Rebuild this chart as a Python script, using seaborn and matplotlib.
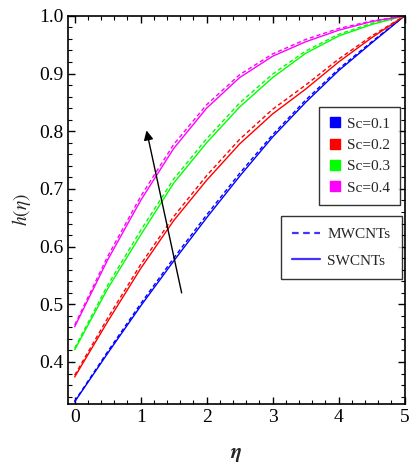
import numpy as np
import pandas as pd
import matplotlib
matplotlib.use("Agg")
import matplotlib.pyplot as plt
from matplotlib.lines import Line2D
import seaborn as sns

eta = [0.0, 0.5, 1.0, 1.5, 2.0, 2.5, 3.0, 3.5, 4.0, 4.5, 5.0]
sc_labels = ["Sc=0.1", "Sc=0.2", "Sc=0.3", "Sc=0.4"]

swcnt_01 = [0.331, 0.415, 0.497, 0.575, 0.650, 0.722, 0.790, 0.850, 0.905, 0.953, 1.0]
mwcnt_01 = [0.332, 0.418, 0.501, 0.580, 0.655, 0.727, 0.794, 0.854, 0.908, 0.955, 1.0]
swcnt_02 = [0.374, 0.470, 0.562, 0.645, 0.715, 0.778, 0.830, 0.873, 0.920, 0.962, 1.0]
mwcnt_02 = [0.377, 0.476, 0.569, 0.652, 0.723, 0.786, 0.838, 0.880, 0.925, 0.965, 1.0]
swcnt_03 = [0.421, 0.527, 0.620, 0.710, 0.780, 0.842, 0.893, 0.935, 0.965, 0.985, 1.0]
mwcnt_03 = [0.424, 0.533, 0.628, 0.717, 0.787, 0.849, 0.899, 0.939, 0.968, 0.987, 1.0]
swcnt_04 = [0.461, 0.577, 0.680, 0.770, 0.840, 0.893, 0.930, 0.955, 0.975, 0.990, 1.0]
mwcnt_04 = [0.464, 0.583, 0.687, 0.777, 0.846, 0.898, 0.934, 0.959, 0.978, 0.991, 1.0]

colors = ["#0000ff", "#ff0000", "#00ff00", "#ff00ff"]

rows = []
for lab, s, m in zip(sc_labels, [swcnt_01, swcnt_02, swcnt_03, swcnt_04],
                     [mwcnt_01, mwcnt_02, mwcnt_03, mwcnt_04]):
    for e, v in zip(eta, s):
        rows.append((e, v, lab, "SWCNTs"))
    for e, v in zip(eta, m):
        rows.append((e, v, lab, "MWCNTs"))
df = pd.DataFrame(rows, columns=["eta", "h", "Sc", "type"])

sns.set_style("ticks")
plt.rcParams["font.family"] = ["Liberation Serif", "DejaVu Serif"]
plt.rcParams["mathtext.fontset"] = "stix"

fig = plt.figure(figsize=(4.10, 4.65), dpi=100)
ax = fig.add_axes([0.166, 0.131, 0.821, 0.835])

sns.lineplot(data=df, x="eta", y="h", hue="Sc", style="type",
             palette=colors, hue_order=sc_labels,
             style_order=["MWCNTs", "SWCNTs"],
             dashes={"MWCNTs": (3, 2), "SWCNTs": ""},
             linewidth=1.0, ax=ax, legend=False, estimator=None, sort=True)

ax.set_xlim(-0.1, 5.0)
ax.set_ylim(0.327, 1.0)
ax.set_xticks([0, 1, 2, 3, 4, 5])
ax.set_yticks([0.4, 0.5, 0.6, 0.7, 0.8, 0.9, 1.0])
ax.set_xticks(np.arange(0, 5.01, 0.2), minor=True)
ax.set_yticks(np.arange(0.34, 1.001, 0.02), minor=True)
ax.tick_params(which="both", direction="in", top=True, right=True,
               labelsize=14, colors="black")
ax.tick_params(which="major", length=5, width=1.0)
ax.tick_params(which="minor", length=3, width=0.8)
for sp in ax.spines.values():
    sp.set_linewidth(1.2)
    sp.set_color("black")

ax.set_xlabel(r"$\boldsymbol{\eta}$", fontsize=15, labelpad=14)
ax.set_ylabel(r"$h(\eta)$", fontsize=14, labelpad=4)

ax.annotate("", xy=(1.08, 0.806), xytext=(1.63, 0.515),
            arrowprops=dict(arrowstyle="-|>", color="black", lw=1.0,
                            mutation_scale=14))

h1 = [Line2D([], [], marker="s", linestyle="none", color=c,
             markersize=7) for c in colors]
leg1 = ax.legend(h1, sc_labels, loc="upper left",
                 bbox_to_anchor=(0.745, 0.765), frameon=True,
                 fancybox=False, edgecolor="black", fontsize=11,
                 handlelength=0.8, handletextpad=0.4, borderpad=0.65,
                 labelspacing=0.5, borderaxespad=0)
leg1.get_frame().set_linewidth(1.0)
ax.add_artist(leg1)

lc = "#4433ff"
h2 = [Line2D([], [], color=lc, linestyle=(0, (3, 2)), linewidth=1.6),
      Line2D([], [], color=lc, linestyle="-", linewidth=1.6)]
leg2 = ax.legend(h2, ["MWCNTs", "SWCNTs"], loc="upper left",
                 bbox_to_anchor=(0.632, 0.485), frameon=True,
                 fancybox=False, edgecolor="black", fontsize=11,
                 handlelength=1.8, handletextpad=0.5, borderpad=0.75,
                 labelspacing=0.85, borderaxespad=0)
leg2.get_frame().set_linewidth(1.0)

fig.savefig("out.png", dpi=100)
